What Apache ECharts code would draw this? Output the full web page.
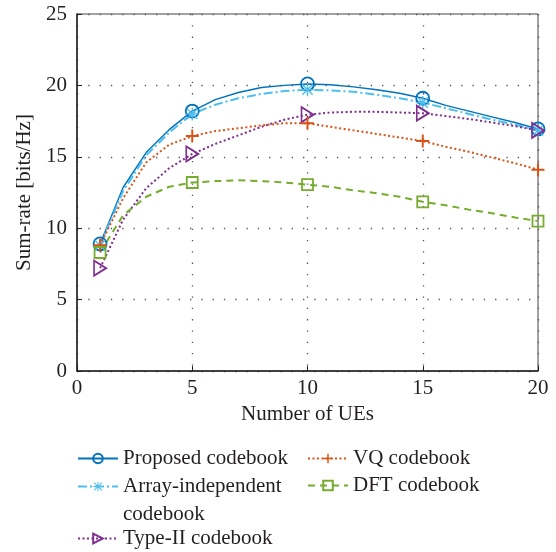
<!DOCTYPE html>
<html>
<head>
<meta charset="utf-8">
<style>
  html, body { margin: 0; padding: 0; background: #fff; }
  #chart { width: 556px; height: 552px; }
</style>
<script src="https://cdn.jsdelivr.net/npm/echarts@6/dist/echarts.min.js"></script>
</head>
<body>
<div id="chart"></div>
<script>
// Number of UEs and the points where markers are drawn
var ues = [1, 2, 3, 4, 5, 6, 7, 8, 9, 10, 11, 12, 13, 14, 15, 16, 17, 18, 19, 20];
var markerUes = [1, 5, 10, 15, 20];

// Sum-rate [bits/Hz] for each codebook
var proposed = [8.9, 12.85, 15.3, 16.9, 18.2, 19.0, 19.5, 19.85, 20.0, 20.1, 20.05, 19.9, 19.7, 19.45, 19.1, 18.6, 18.2, 17.8, 17.4, 16.95];
var arrayIndep = [8.8, 12.6, 15.1, 16.7, 18.0, 18.65, 19.1, 19.4, 19.6, 19.7, 19.65, 19.55, 19.35, 19.1, 18.8, 18.4, 18.0, 17.6, 17.25, 16.85];
var vq = [8.8, 12.1, 14.6, 15.85, 16.45, 16.8, 17.0, 17.2, 17.35, 17.35, 17.1, 16.85, 16.6, 16.35, 16.1, 15.7, 15.35, 14.95, 14.55, 14.1];
var typeII = [7.2, 10.6, 12.8, 14.2, 15.2, 15.9, 16.5, 17.1, 17.6, 17.95, 18.1, 18.15, 18.15, 18.1, 18.05, 17.85, 17.65, 17.4, 17.15, 16.85];
var dft = [8.3, 10.9, 12.2, 12.9, 13.2, 13.3, 13.35, 13.3, 13.2, 13.05, 12.9, 12.65, 12.45, 12.2, 11.85, 11.6, 11.3, 11.05, 10.75, 10.5];

var xTicks = [0, 5, 10, 15, 20];
var yTicks = [0, 5, 10, 15, 20, 25];

var FONT = '"Liberation Serif", "DejaVu Serif", serif';
var TEXT = '#231f20';

var ASTERISK = 'path://M9,0L11,0L11,20L9,20Z M0,9L20,9L20,11L0,11Z ' +
  'M1.4,2.8L2.8,1.4L18.6,17.2L17.2,18.6Z M17.2,1.4L18.6,2.8L2.8,18.6L1.4,17.2Z';
var PLUS = 'path://M8.5,0L11.5,0L11.5,8.5L20,8.5L20,11.5L11.5,11.5L11.5,20L8.5,20L8.5,11.5L0,11.5L0,8.5L8.5,8.5Z';
var TRI_RIGHT = 'path://M0,0L20,10L0,20Z';

// Markers only at selected UE counts; the line runs through every point
function points(ys) {
  return ues.map(function (u, i) {
    var item = { value: [u, ys[i]] };
    if (markerUes.indexOf(u) < 0) item.symbol = 'none';
    return item;
  });
}

function makeSeries(name, ys, color, lineType, width, symbol, size, hollow) {
  return {
    name: name,
    type: 'line',
    data: points(ys),
    smooth: false,
    showAllSymbol: true,
    symbol: symbol,
    symbolSize: size,
    lineStyle: { color: color, width: width, type: lineType },
    itemStyle: hollow
      ? { color: 'rgba(255,255,255,0)', borderColor: color, borderWidth: 1.8 }
      : { color: color, borderWidth: 0 },
    emphasis: { disabled: true },
    z: 3
  };
}

var series = [
  makeSeries('Proposed codebook', proposed, '#0072BD', 'solid', 1.4, 'circle', 13, true),
  makeSeries('Array-independent codebook', arrayIndep, '#4DBEEE', [9, 3, 2, 3], 2, ASTERISK, 13, false),
  makeSeries('Type-II codebook', typeII, '#7E2F8E', [2, 2.5], 2, TRI_RIGHT, [12, 15], true),
  makeSeries('VQ codebook', vq, '#D95319', [2, 2.5], 2, PLUS, 13, false),
  makeSeries('DFT codebook', dft, '#77AC30', [7, 5], 2, 'rect', 11, true)
];

var legendFont = { fontFamily: FONT, fontSize: 21, color: TEXT, lineHeight: 25 };

// One legend block per entry so each can be placed on its own row
function legendEntry(name, left, top, text) {
  return {
    data: [name],
    left: left, top: top, padding: 0,
    itemWidth: 40, itemHeight: 12,
    formatter: function () { return text; },
    textStyle: legendFont,
    selectedMode: false
  };
}

var chart = echarts.init(document.getElementById('chart'), null, { renderer: 'canvas' });
chart.setOption({
  animation: false,
  backgroundColor: '#fff',
  grid: {
    left: 77, right: 18, top: 14, bottom: 181,
    show: true, borderColor: '#444', borderWidth: 1, backgroundColor: 'transparent'
  },
  xAxis: {
    type: 'value', min: xTicks[0], max: xTicks[xTicks.length - 1], interval: 5,
    name: 'Number of UEs', nameLocation: 'middle', nameGap: 28,
    nameTextStyle: { fontFamily: FONT, fontSize: 21, color: TEXT },
    axisLine: { show: true, lineStyle: { color: '#231f20', width: 1.5 } },
    axisTick: { show: true, inside: true, length: 5, lineStyle: { color: '#231f20' } },
    axisLabel: { fontFamily: FONT, fontSize: 21, color: TEXT, margin: 7 },
    splitLine: { show: true, lineStyle: { color: '#555', width: 1.3, type: [1.3, 10] } }
  },
  yAxis: {
    type: 'value', min: yTicks[0], max: yTicks[yTicks.length - 1], interval: 5,
    name: 'Sum-rate [bits/Hz]', nameLocation: 'middle', nameGap: 40, nameRotate: 90,
    nameTextStyle: { fontFamily: FONT, fontSize: 21, color: TEXT },
    axisLine: { show: true, lineStyle: { color: '#231f20', width: 1.5 } },
    axisTick: { show: true, inside: true, length: 5, lineStyle: { color: '#231f20' } },
    axisLabel: { fontFamily: FONT, fontSize: 21, color: TEXT, margin: 10 },
    splitLine: { show: true, lineStyle: { color: '#555', width: 1.3, type: [1.3, 10] } }
  },
  legend: [
    legendEntry('Proposed codebook', 77, 446, 'Proposed codebook'),
    legendEntry('Array-independent codebook', 77, 474, 'Array-independent'),
    legendEntry('Type-II codebook', 77, 526, 'Type-II codebook'),
    legendEntry('VQ codebook', 307, 446, 'VQ codebook'),
    legendEntry('DFT codebook', 307, 473, 'DFT codebook')
  ],
  // Second line of the wrapped legend label
  graphic: [{
    type: 'text', left: 123, top: 504,
    style: { text: 'codebook', font: '21px ' + FONT, fill: TEXT }
  }],
  series: series
});
</script>
</body>
</html>
